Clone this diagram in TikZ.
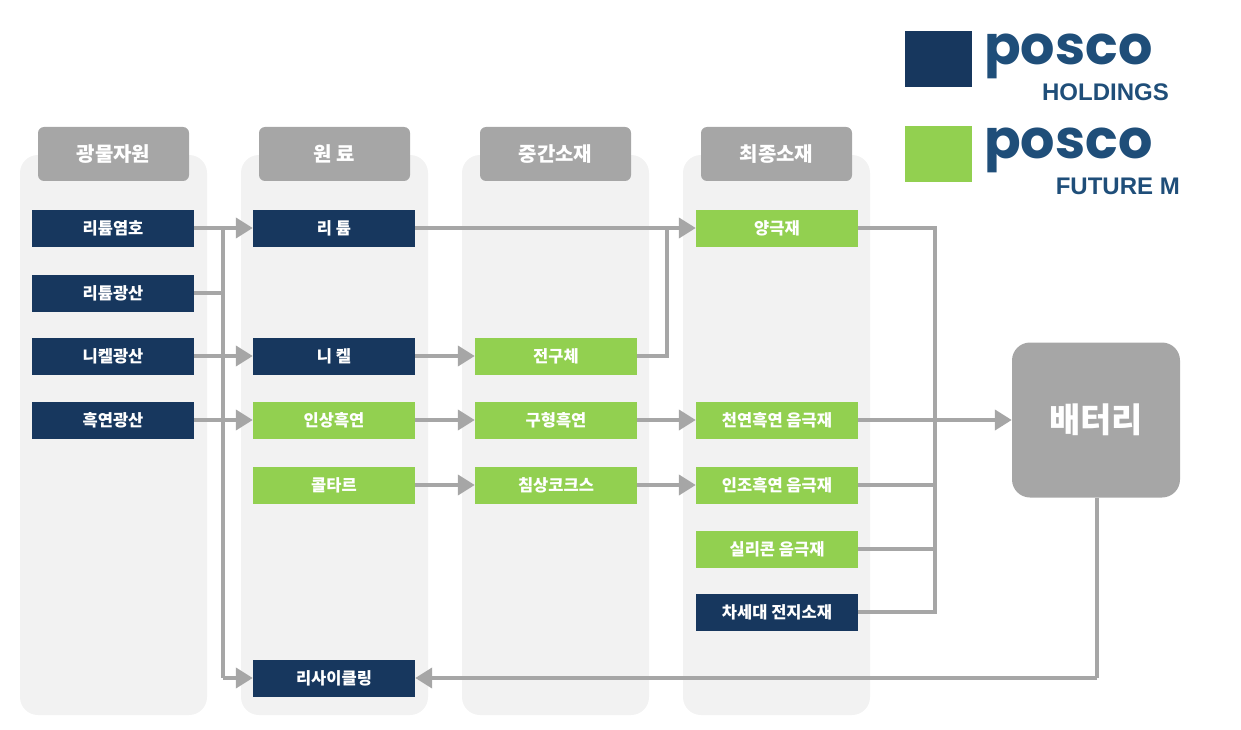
\documentclass[tikz,border=0pt]{standalone}
\usepackage{fontspec}
\setmainfont{Liberation Sans}
\newfontfamily\kr{Noto Sans CJK KR}
\newfontfamily\pop{Poppins}
\usetikzlibrary{arrows.meta}
\definecolor{navy}{HTML}{17375E}
\definecolor{lgreen}{HTML}{92D050}
\definecolor{hgray}{HTML}{A6A6A6}
\definecolor{panel}{HTML}{F2F2F2}
\definecolor{logob}{HTML}{1F4E79}
\tikzset{
 box/.style={minimum width=162pt,minimum height=37pt,inner sep=0pt,font=\kr\bfseries\fontsize{16.5}{16.5}\selectfont,text=white},
 nbox/.style={box,fill=navy},
 gbox/.style={box,fill=lgreen},
 tab/.style={fill=hgray,rounded corners=6pt,minimum width=151pt,minimum height=54pt,inner sep=0pt,text=white,font=\kr\bfseries\fontsize{20}{20}\selectfont},
 conn/.style={draw=hgray,line width=4pt},
 arr/.style={conn,-{Triangle[length=17pt,width=20pt]}}
}
\begin{document}
\begin{tikzpicture}[x=1pt,y=-1pt]
\useasboundingbox (0,0) rectangle (1241,730);
\foreach \x in {20,241,462,683}{\fill[panel,rounded corners=18pt] (\x,155) rectangle ++(187,560);}
\node[tab] at (113.5,154) {광물자원};
\node[tab] at (334.5,154) {원 료};
\node[tab] at (555.5,154) {중간소재};
\node[tab] at (776.5,154) {최종소재};
% col1
\node[nbox] (a1) at (113,228) {리튬염호};
\node[nbox] (a2) at (113,293) {리튬광산};
\node[nbox] (a3) at (113,356) {니켈광산};
\node[nbox] (a4) at (113,420) {흑연광산};
% col2
\node[nbox] (b1) at (334,228) {리 튬};
\node[nbox] (b2) at (334,356) {니 켈};
\node[gbox] (b3) at (334,420) {인상흑연};
\node[gbox] (b4) at (334,485) {콜타르};
\node[nbox] (b5) at (334,678) {리사이클링};
% col3
\node[gbox] (c2) at (556,356) {전구체};
\node[gbox] (c3) at (556,420) {구형흑연};
\node[gbox] (c4) at (556,485) {침상코크스};
% col4
\node[gbox] (d1) at (777,228) {양극재};
\node[gbox] (d3) at (777,420) {천연흑연 음극재};
\node[gbox] (d4) at (777,485) {인조흑연 음극재};
\node[gbox] (d5) at (777,549) {실리콘 음극재};
\node[nbox] (d6) at (777,612) {차세대 전지소재};
% battery
\node[fill=hgray,rounded corners=18pt,minimum width=168pt,minimum height=155pt,text=white,font=\kr\bfseries\fontsize{34}{34}\selectfont] (bat) at (1096,420) {배터리};
% connectors
\coordinate (v1) at (223,228);
\coordinate (v2) at (223,678);
\draw[arr] (a1.east) -- (b1.west);
\draw[conn] (a2.east) -- (a2.east -| v1);
\draw[conn] (v1) -- (v2);
\draw[arr] (v2) -- (b5.west);
\draw[arr] (a3) -- (b2);
\draw[arr] (a4) -- (b3);
\draw[arr] (b1) -- (d1);
\draw[arr] (b2) -- (c2);
\coordinate (p) at (667,228);
\draw[conn] (c2.east) -- (c2.east -| p) -- (p);
\draw[arr] (b3) -- (c3);
\draw[arr] (b4) -- (c4);
\draw[arr] (c3) -- (d3);
\draw[arr] (c4) -- (d4);
\coordinate (r1) at (935,228);
\coordinate (r2) at (935,612);
\draw[conn] (d1.east) -- (r1) -- (r2) -- (d6.east);
\draw[conn] (d4.east) -- (d4.east -| r1);
\draw[conn] (d5.east) -- (d5.east -| r1);
\draw[arr] (d3.east) -- (bat.west);
\coordinate (q) at (1097,678);
\draw[conn] (bat.south -| q) -- (q);
\draw[arr] (q) -- (b5.east);
% logos
\fill[navy] (905,31) rectangle (972,87);
\fill[lgreen] (905,126) rectangle (972,182);
\node[anchor=west,inner sep=0pt,text=logob,font=\pop\bfseries\fontsize{54}{54}\selectfont] (l1) at (984,56) {posco};
\node[anchor=east,inner sep=0pt,text=logob,font=\bfseries\fontsize{24}{24}\selectfont] (l2) at (1169,92) {HOLDINGS};
\node[anchor=west,inner sep=0pt,text=logob,font=\pop\bfseries\fontsize{54}{54}\selectfont] (l3) at (984,150) {posco};
\node[anchor=east,inner sep=0pt,text=logob,font=\bfseries\fontsize{24}{24}\selectfont] (l4) at (1180,186) {FUTURE M};
\end{tikzpicture}
\end{document}
